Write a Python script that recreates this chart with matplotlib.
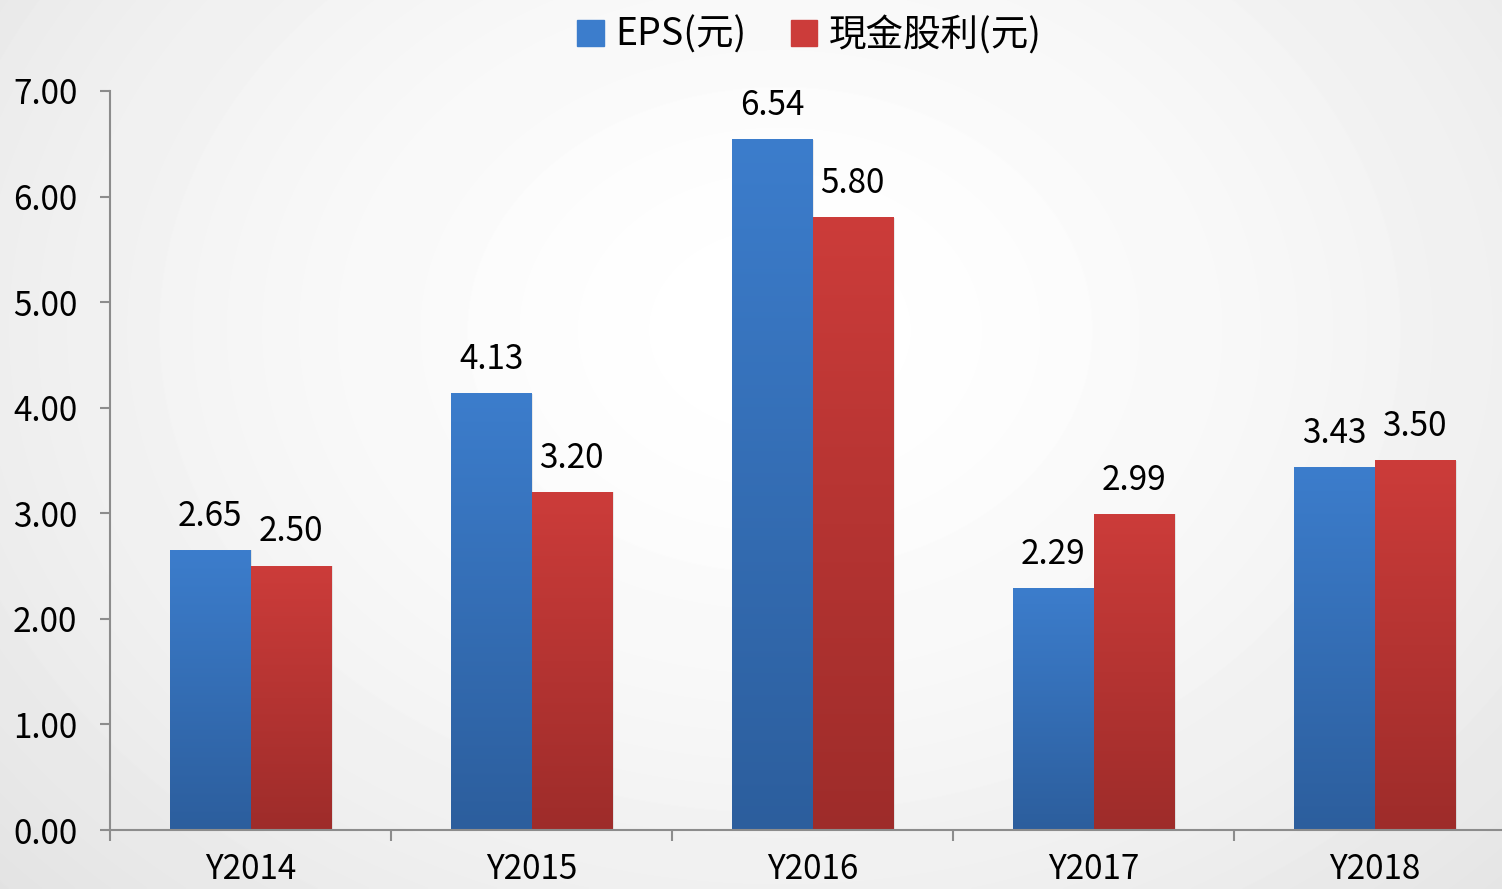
import numpy as np
import matplotlib
matplotlib.use("Agg")
import matplotlib.pyplot as plt
from matplotlib.colors import LinearSegmentedColormap
from matplotlib.patches import Rectangle

plt.rcParams['font.family'] = ['Noto Sans CJK TC', 'DejaVu Sans']

years = ['Y2014', 'Y2015', 'Y2016', 'Y2017', 'Y2018']
eps = [2.65, 4.13, 6.54, 2.29, 3.43]
dividend = [2.50, 3.20, 5.80, 2.99, 3.50]
series_names = ['EPS(元)', '現金股利(元)']
y_ticks = [0, 1, 2, 3, 4, 5, 6, 7]

blue_top, blue_bot = '#3c7dcc', '#2c5e9d'
red_top, red_bot = '#cc3c3a', '#9e2c2a'

fig = plt.figure(figsize=(15.02, 8.89), dpi=100)

# radial background
bg = fig.add_axes([0, 0, 1, 1], zorder=-10)
yy, xx = np.mgrid[0:889, 0:1502]
r = np.sqrt(((xx - 780) / 900.0) ** 2 + ((yy - 330) / 700.0) ** 2)
shade = 1.0 - 0.085 * np.clip(r, 0, 1.2) ** 1.6
bg.imshow(shade, cmap='gray', vmin=0, vmax=1, aspect='auto', interpolation='bilinear')
bg.axis('off')

ax = fig.add_axes([110 / 1502, 59 / 889, 1392 / 1502, 739 / 889])
ax.patch.set_alpha(0)
x = np.arange(len(years))
w = 0.286
fs = 24


def grad_bar(ax, x0, h, c_top, c_bot):
    cmap = LinearSegmentedColormap.from_list('g', [c_bot, c_top])
    grad = np.linspace(0, 1, 256).reshape(-1, 1)
    # soft shadow on right
    sh = Rectangle((x0 + 0.006, 0), w, h, color='#000000', alpha=0.08, lw=0, zorder=1)
    ax.add_patch(sh)
    ax.imshow(grad, cmap=cmap, origin='lower', aspect='auto',
              extent=(x0, x0 + w, 0, h), zorder=2, interpolation='bilinear')


for i in range(len(years)):
    grad_bar(ax, x[i] - w, eps[i], blue_top, blue_bot)
    grad_bar(ax, x[i], dividend[i], red_top, red_bot)
    ax.annotate(f'{eps[i]:.2f}', (x[i] - w / 2, eps[i]), xytext=(0, 12),
                textcoords='offset points', ha='center', va='bottom', fontsize=fs)
    ax.annotate(f'{dividend[i]:.2f}', (x[i] + w / 2, dividend[i]), xytext=(0, 12),
                textcoords='offset points', ha='center', va='bottom', fontsize=fs)

for s in ['top', 'right']:
    ax.spines[s].set_visible(False)
for s in ['left', 'bottom']:
    ax.spines[s].set_color('#8c8c8c')
    ax.spines[s].set_linewidth(1.5)

ax.set_yticks(y_ticks)
ax.set_yticklabels([f'{v:.2f}' for v in y_ticks], fontsize=fs)
ax.tick_params(axis='y', length=7.5, width=1.5, color='#8c8c8c', pad=16)

ax.set_xticks(np.arange(-0.5, 4.6, 1.0))
ax.set_xticklabels([])
ax.tick_params(axis='x', which='major', length=8, width=1.5, color='#8c8c8c')
ax.set_xticks(x, minor=True)
ax.set_xticklabels(years, minor=True, fontsize=fs)
ax.tick_params(axis='x', which='minor', length=0, pad=16)

ax.set_xlim(-0.5, -0.5 + 1392 / 281)
ax.set_ylim(0, 7)

handles = [Rectangle((0, 0), 1, 1, color=blue_top), Rectangle((0, 0), 1, 1, color=red_top)]
fig.legend(handles, series_names, loc='upper center', bbox_to_anchor=(0.539, 1.02), ncol=2,
           frameon=False, fontsize=27, handlelength=0.7, handleheight=0.7,
           handletextpad=0.3, columnspacing=1.2)

fig.savefig('out.png', dpi=100)
